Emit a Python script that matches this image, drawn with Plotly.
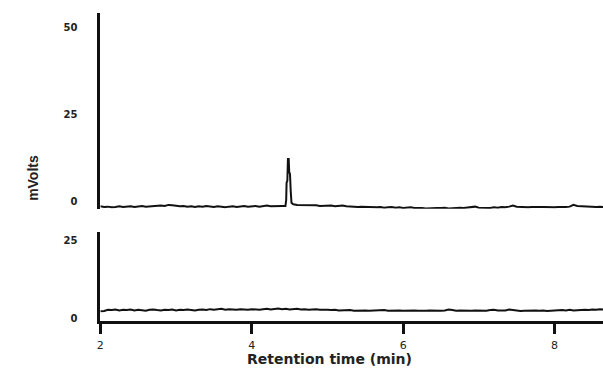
import numpy as np
import plotly.graph_objects as go

# Sampling grid (min)
t_grid = np.round(np.arange(2.00, 8.651, 0.05), 3).tolist()

# Upper chromatogram baseline (mV), one value per grid time
top_vals = [
    -1.3, -1.5, -1.4, -1.6, -1.5, -1.3, -1.5, -1.4, -1.3, -1.5,
    -1.4, -1.2, -1.4, -1.3, -1.2, -1.3, -1.1, -1.2, -0.9, -1.0,
    -1.2, -1.3, -1.2, -1.4, -1.3, -1.5, -1.3, -1.4, -1.2, -1.4,
    -1.5, -1.3, -1.4, -1.6, -1.4, -1.3, -1.5, -1.4, -1.2, -1.4,
    -1.3, -1.2, -1.4, -1.3, -1.1, -1.3, -1.2, -1.3, -1.2, -0.3,
    8.2, -0.7, -0.9, -0.9, -1.0, -1.0, -1.1, -1.0, -1.2, -1.1,
    -1.2, -1.1, -1.3, -1.2, -1.1, -1.3, -1.4, -1.3, -1.5, -1.4,
    -1.5, -1.6, -1.5, -1.6, -1.5, -1.7, -1.6, -1.5, -1.7, -1.6,
    -1.8, -1.7, -1.6, -1.8, -1.7, -1.8, -1.9, -1.8, -1.7, -1.8,
    -1.8, -1.7, -1.9, -1.8, -1.6, -1.7, -1.8, -1.7, -1.6, -1.4,
    -1.7, -1.8, -1.7, -1.8, -1.6, -1.7, -1.5, -1.6, -1.4, -1.1,
    -1.4, -1.5, -1.5, -1.6, -1.5, -1.6, -1.5, -1.5, -1.6, -1.5,
    -1.6, -1.5, -1.6, -1.5, -1.4, -0.9, -1.2, -1.3, -1.3, -1.4,
    -1.4, -1.5, -1.4, -1.5,
]

# Upper chromatogram peak detail (min, mV)
peak_t = [4.445, 4.455, 4.460, 4.470, 4.478, 4.488, 4.495, 4.505, 4.515, 4.525, 4.540]
peak_v = [-1.2, 0.5, 5.5, 6.0, 12.3, 12.3, 8.5, 8.0, 3.0, -0.3, -0.6]

# Lower chromatogram baseline (mV)
bot_vals = [
    2.3, 2.4, 2.8, 2.7, 2.9, 2.6, 2.8, 2.7, 2.9, 2.6,
    2.8, 2.7, 2.5, 2.8, 2.9, 2.7, 2.6, 2.8, 2.7, 2.9,
    2.6, 2.8, 2.7, 2.9, 2.8, 2.6, 2.8, 2.9, 2.7, 3.0,
    2.8, 2.9, 3.1, 2.8, 3.0, 2.9, 2.8, 3.0, 2.9, 2.8,
    3.0, 2.9, 2.8, 3.0, 3.1, 2.9, 3.0, 3.2, 3.0, 3.1,
    2.9, 3.0, 3.1, 2.9, 3.0, 2.8, 2.9, 3.0, 2.8, 2.9,
    2.8, 2.7, 2.8, 2.6, 2.7, 2.6, 2.7, 2.5, 2.6, 2.7,
    2.6, 2.5, 2.6, 2.5, 2.6, 2.7, 2.5, 2.6, 2.5, 2.6,
    2.5, 2.6, 2.5, 2.6, 2.5, 2.4, 2.5, 2.6, 2.5, 2.4,
    2.5, 2.6, 2.9, 2.7, 2.5, 2.6, 2.5, 2.4, 2.5, 2.6,
    2.5, 2.6, 2.5, 2.7, 2.8, 2.6, 2.5, 2.6, 2.9, 2.7,
    2.5, 2.4, 2.5, 2.6, 2.5, 2.6, 2.5, 2.6, 2.4, 2.5,
    2.6, 2.5, 2.7, 2.6, 2.8, 2.6, 2.7, 2.9, 2.8, 2.7,
    2.9, 2.8, 3.0, 2.9,
]

x_ticks = [2, 4, 6, 8]
top_y_ticks = [0, 25, 50]
bot_y_ticks = [0, 25]
x_title = "Retention time (min)"
y_title = "mVolts"

# merge grid and peak detail for the upper trace
pairs = sorted(zip(t_grid + peak_t, top_vals + peak_v))
top_t = [p[0] for p in pairs]
top_v = [p[1] for p in pairs]

W, H = 603, 372
x0 = 97 / W
xr = [2, 8.64]

fig = go.Figure()
fig.add_trace(go.Scatter(x=top_t, y=top_v, mode="lines",
                         line=dict(color="#111111", width=2),
                         xaxis="x", yaxis="y", showlegend=False, hoverinfo="skip"))
fig.add_trace(go.Scatter(x=t_grid, y=bot_vals, mode="lines",
                         line=dict(color="#111111", width=2),
                         xaxis="x2", yaxis="y2", showlegend=False, hoverinfo="skip"))

ytick_font = dict(family="DejaVu Sans", size=10, color="#222222", weight="bold")

fig.update_layout(
    width=W, height=H,
    margin=dict(l=0, r=0, t=0, b=0),
    paper_bgcolor="white", plot_bgcolor="white",
    xaxis=dict(domain=[x0, 1], range=xr, anchor="y", showline=False,
               showticklabels=False, ticks="", showgrid=False, zeroline=False),
    yaxis=dict(domain=[1 - 211 / H, 1 - 13 / H], range=[-2.0, 54.3], anchor="x",
               showline=True, linecolor="#111111", linewidth=3,
               tickvals=top_y_ticks, ticks="", ticklabelstandoff=18,
               tickfont=ytick_font, showgrid=False, zeroline=False),
    xaxis2=dict(domain=[x0, 1], range=xr, anchor="y2", showline=True,
                linecolor="#111111", linewidth=2.5, ticks="outside", ticklen=11,
                tickwidth=2.5, tickcolor="#111111", tickvals=x_ticks,
                ticklabelstandoff=2,
                tickfont=dict(family="DejaVu Sans", size=11, color="#222222"),
                showgrid=False, zeroline=False),
    yaxis2=dict(domain=[1 - 324 / H, 1 - 235 / H], range=[-0.63, 27.5], anchor="x2",
                showline=True, linecolor="#111111", linewidth=3,
                tickvals=bot_y_ticks, ticks="", ticklabelstandoff=18,
                tickfont=ytick_font, showgrid=False, zeroline=False),
    annotations=[
        dict(text=x_title, x=328 / W, y=0, xref="paper", yref="paper",
             showarrow=False, xanchor="center", yanchor="bottom", borderpad=0,
             font=dict(family="DejaVu Sans", size=14, color="#222222", weight="bold")),
        dict(text=y_title, x=29 / W, y=1 - 180 / H, xref="paper", yref="paper",
             showarrow=False, xanchor="center", yanchor="middle", textangle=-90,
             font=dict(family="Liberation Sans", size=14, color="#222222", weight="bold")),
    ],
)

fig.write_html("out.html", config={"displayModeBar": False},
               post_script="document.body.style.margin='0';document.body.style.padding='0';")
